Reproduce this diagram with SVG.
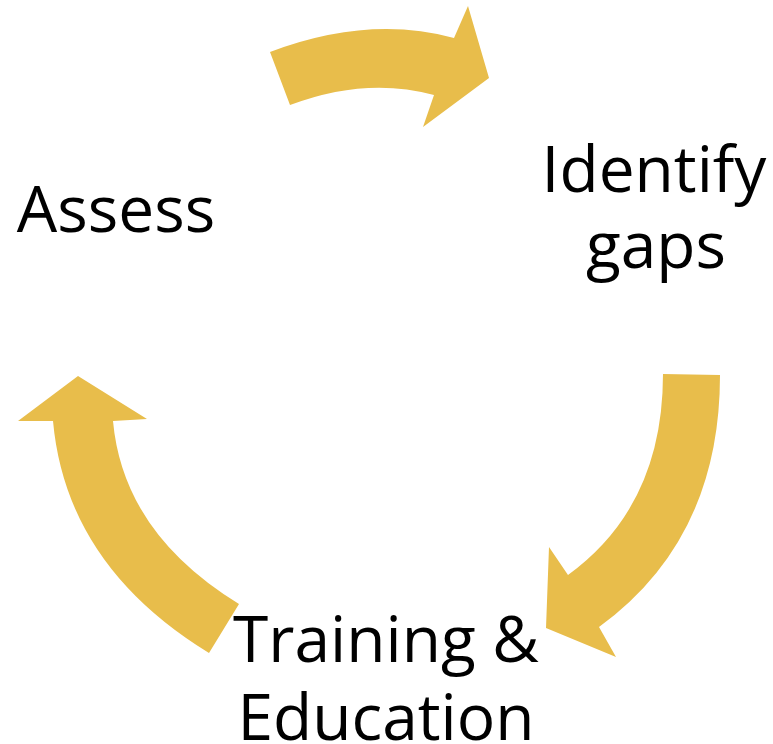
<svg xmlns="http://www.w3.org/2000/svg" width="773" height="744" viewBox="0 0 773 744">
<style>
.arrow{fill:#E8BD4B;stroke:none}
.lbl{font-family:"Open Sans","Noto Sans","Liberation Sans",sans-serif;font-size:64px;fill:#000;text-anchor:middle}
</style>
<rect width="773" height="744" fill="#fff"/>
<g id="connectors">
<path id="arrow-top" class="arrow" d="M270,52 Q368.7,14.7 454,38 L468,6 L489,78 L423,127 L434,95 Q365.8,76.4 290,105 Z"/>
<path id="arrow-right" class="arrow" d="M663,374 L720,375 Q720,539 599,627 L616,657 L546,628 L549,547 L568,575 Q663,506 663,374 Z"/>
<path id="arrow-left" class="arrow" d="M239,604 L209,653 Q66.1,565.5 53,421 L18,421 L78,376 L147,419 L113,421 Q123.2,533.1 239,604 Z"/>
</g>
<g id="node-assess"><text class="lbl" x="116" y="232">Assess</text></g>
<g id="node-identify"><text class="lbl" x="654" y="192">Identify</text><text class="lbl" x="656" y="268">gaps</text></g>
<g id="node-training"><text class="lbl" x="386" y="662">Training &amp;</text><text class="lbl" x="386" y="740">Education</text></g>
</svg>
